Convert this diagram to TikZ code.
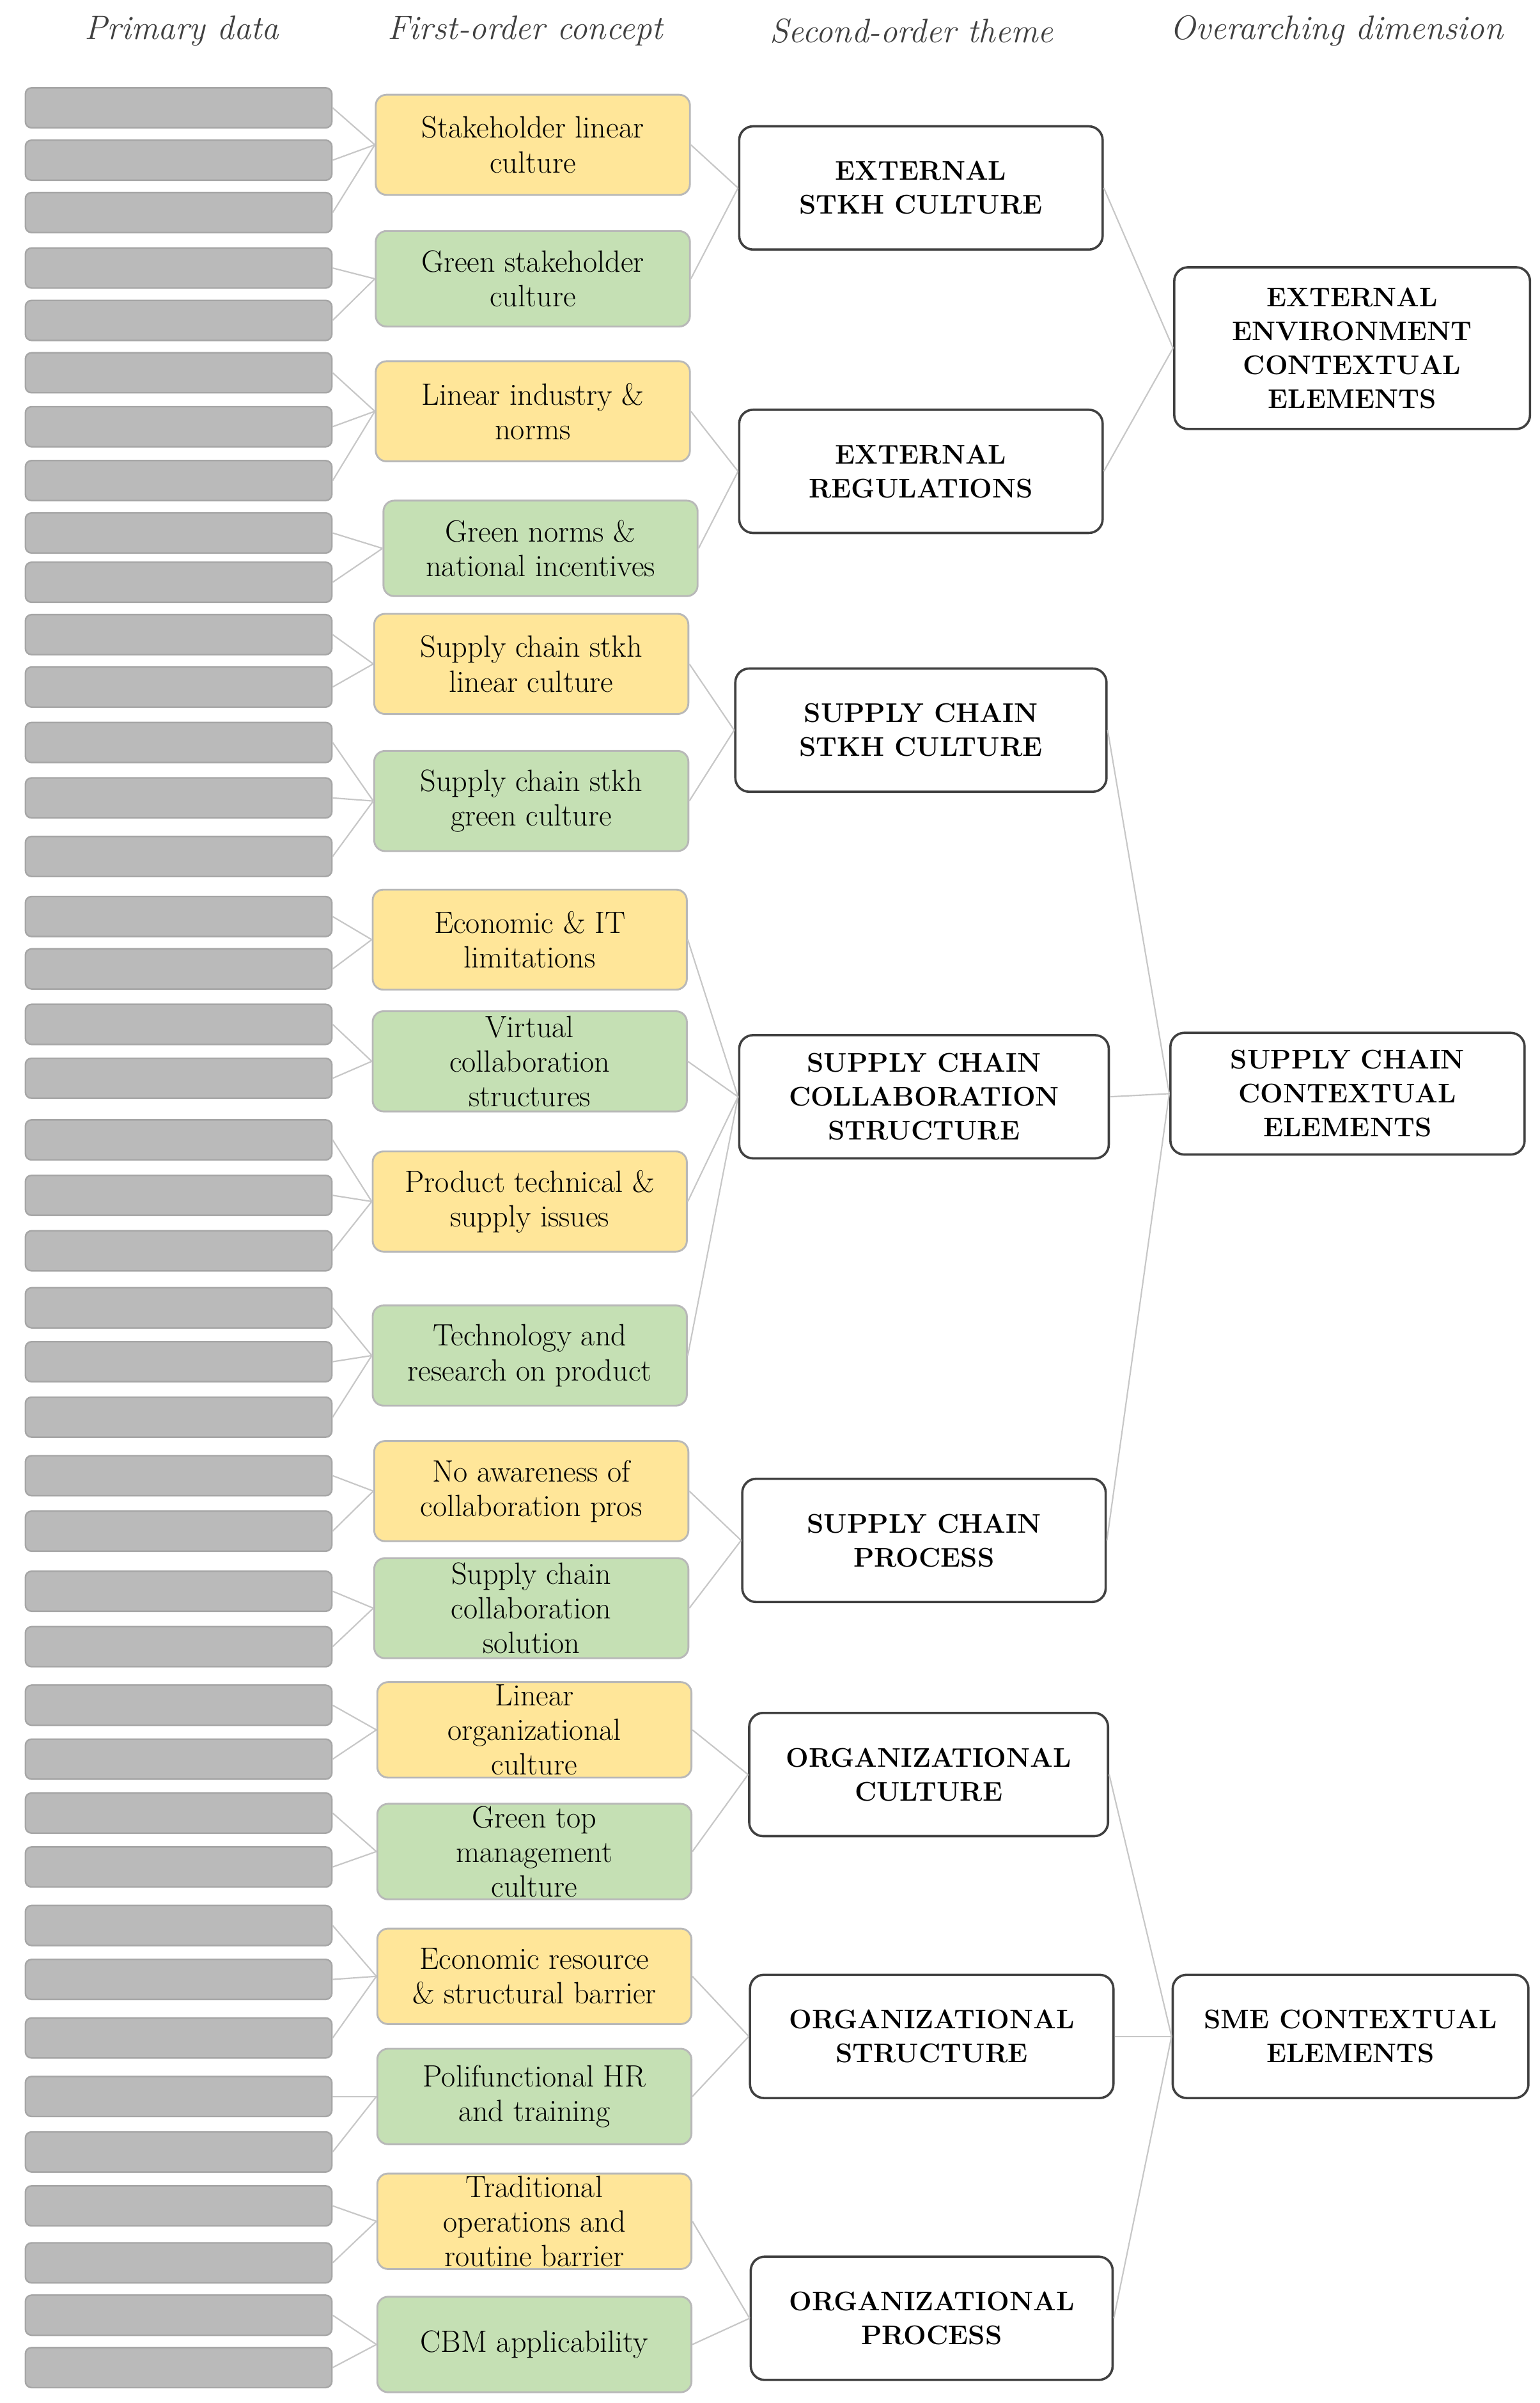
\documentclass[tikz,border=0pt]{standalone}
\begin{document}
\begin{tikzpicture}[x=1pt,y=-1pt,
  font=\fontsize{20}{22.5}\selectfont,
  pd/.style={draw=black!35,fill=black!27,rounded corners=4pt,minimum width=199pt,minimum height=26pt,line width=1pt},
  yel/.style={draw=black!28,fill=yc,rounded corners=7pt,minimum width=204pt,minimum height=65pt,align=center,line width=1.2pt,inner sep=1pt},
  grn/.style={yel,fill=gc},
  th/.style={draw=black!75,fill=white,rounded corners=9pt,minimum width=236pt,minimum height=80pt,align=center,line width=1.5pt,font=\fontsize{17.5}{22}\selectfont\bfseries},
  hd/.style={font=\fontsize{22}{24}\selectfont\itshape,text=black!75},
  ln/.style={draw=black!22,line width=0.9pt}]
\definecolor{yc}{HTML}{FFE699}
\definecolor{gc}{HTML}{C5E0B4}
\useasboundingbox (0,0) rectangle (1000,1560);
\node[hd] (h1) at (118,20) {Primary data};
\node[hd] (h2) at (341,20) {First-order concept};
\node[hd] (h3) at (592,20) {Second-order theme};
\node[hd] (h4) at (868,20) {Overarching dimension};
\foreach \y [count=\i] in {70,104,138,174,208,242,277,312,346,378,412,446,482,518,556,595,629,665,700,740,776,812,849,884,920,958,994,1033,1069,1107,1142,1177,1212,1250,1285,1323,1361,1397,1432,1469,1503,1537}
  \node[pd] (p\i) at (116,\y) {};
\node[yel] (c1) at (346,94) {Stakeholder linear\\culture};
\node[grn,minimum height=62pt] (c2) at (346,181) {Green stakeholder\\culture};
\node[yel] (c3) at (346,267) {Linear industry \&\\norms};
\node[grn,minimum height=62pt] (c4) at (351,356) {Green norms \&\\national incentives};
\node[yel] (c5) at (345,431) {Supply chain stkh\\linear culture};
\node[grn] (c6) at (345,520) {Supply chain stkh\\green culture};
\node[yel] (c7) at (344,610) {Economic \& IT\\limitations};
\node[grn] (c8) at (344,689) {Virtual\\collaboration\\structures};
\node[yel] (c9) at (344,780) {Product technical \&\\supply issues};
\node[grn] (c10) at (344,880) {Technology and\\research on product};
\node[yel] (c11) at (345,968) {No awareness of\\collaboration pros};
\node[grn] (c12) at (345,1044) {Supply chain\\collaboration\\solution};
\node[yel,minimum height=62pt] (c13) at (347,1123) {Linear\\organizational\\culture};
\node[grn,minimum height=62pt] (c14) at (347,1202) {Green top\\management\\culture};
\node[yel,minimum height=62pt] (c15) at (347,1283) {Economic resource\\\& structural barrier};
\node[grn,minimum height=62pt] (c16) at (347,1361) {Polifunctional HR\\and training};
\node[yel,minimum height=62pt] (c17) at (347,1442) {Traditional\\operations and\\routine barrier};
\node[grn,minimum height=62pt] (c18) at (347,1522) {CBM applicability};
\node[th] (tA) at (598,122) {EXTERNAL\\STKH CULTURE};
\node[th] (tB) at (598,306) {EXTERNAL\\REGULATIONS};
\node[th,minimum width=241pt] (tC) at (598,474) {SUPPLY CHAIN\\STKH CULTURE};
\node[th,minimum width=240pt] (tD) at (600,712) {SUPPLY CHAIN\\COLLABORATION\\STRUCTURE};
\node[th] (tE) at (600,1000) {SUPPLY CHAIN\\PROCESS};
\node[th,minimum width=233pt] (tF) at (603,1152) {ORGANIZATIONAL\\CULTURE};
\node[th] (tG) at (605,1322) {ORGANIZATIONAL\\STRUCTURE};
\node[th,minimum width=235pt] (tH) at (605,1505) {ORGANIZATIONAL\\PROCESS};
\node[th,minimum width=231pt,minimum height=105pt] (oX) at (878,226) {EXTERNAL\\ENVIRONMENT\\CONTEXTUAL\\ELEMENTS};
\node[th,minimum width=230pt,minimum height=79pt] (oY) at (875,710) {SUPPLY CHAIN\\CONTEXTUAL\\ELEMENTS};
\node[th,minimum width=231pt] (oZ) at (877,1322) {SME CONTEXTUAL\\ELEMENTS};
\foreach \a/\b in {1/c1,2/c1,3/c1,4/c2,5/c2,6/c3,7/c3,8/c3,9/c4,10/c4,11/c5,12/c5,13/c6,14/c6,15/c6,16/c7,17/c7,18/c8,19/c8,20/c9,21/c9,22/c9,23/c10,24/c10,25/c10,26/c11,27/c11,28/c12,29/c12,30/c13,31/c13,32/c14,33/c14,34/c15,35/c15,36/c15,37/c16,38/c16,39/c17,40/c17,41/c18,42/c18}
  \draw[ln] (p\a.east) -- (\b.west);
\foreach \a/\b in {c1/tA,c2/tA,c3/tB,c4/tB,c5/tC,c6/tC,c7/tD,c8/tD,c9/tD,c10/tD,c11/tE,c12/tE,c13/tF,c14/tF,c15/tG,c16/tG,c17/tH,c18/tH,tA/oX,tB/oX,tC/oY,tD/oY,tE/oY,tF/oZ,tG/oZ,tH/oZ}
  \draw[ln] (\a.east) -- (\b.west);
\end{tikzpicture}
\end{document}
